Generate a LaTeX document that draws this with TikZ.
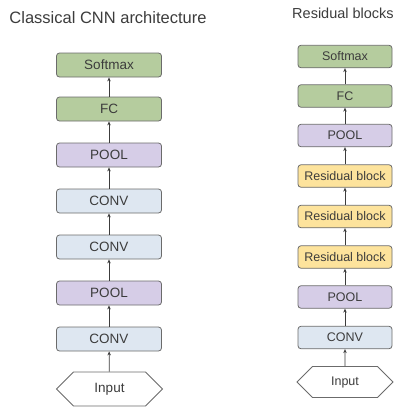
\documentclass[tikz,border=0pt]{standalone}
\usepackage{fontspec}
\setmainfont{Liberation Sans}
\usetikzlibrary{arrows.meta,shapes.symbols}

\definecolor{boxgray}{HTML}{6B6B6B}
\definecolor{txtgray}{HTML}{3C3C3C}
\definecolor{fcgreen}{HTML}{B5CC9E}
\definecolor{poolpurple}{HTML}{D6CDE7}
\definecolor{convblue}{HTML}{DEE7F1}
\definecolor{resyellow}{HTML}{FDE39C}

\begin{document}
\begin{tikzpicture}[x=1pt, y=-1pt, >={Stealth[length=4pt,width=3.5pt]}]
 \tikzset{
  layer/.style={draw=boxgray, line width=0.8pt, rounded corners=3pt, inner sep=0pt,
                text=txtgray, minimum width=105pt, minimum height=24pt,
                font=\fontsize{13.5}{15}\selectfont},
  slim/.style={minimum width=94pt, minimum height=22.5pt,
               font=\fontsize{12.5}{14}\selectfont},
  inp/.style={draw=boxgray, line width=0.8pt, fill=white, text=txtgray, inner sep=0pt,
              signal, signal to=west and east, signal pointer angle=90},
  link/.style={->, draw=txtgray, line width=0.8pt},
  title/.style={text=txtgray, inner sep=0pt}
 }
 \useasboundingbox (0,0) rectangle (400,408);

 % classical stack
 \node[title, font=\fontsize{16.5}{19}\selectfont] (tl) at (108,18) {Classical CNN architecture};
 \node[layer, fill=fcgreen] (l7) at (109,65) {Softmax};
 \node[layer, fill=fcgreen] (l6) at (109,109) {FC};
 \node[layer, fill=poolpurple] (l5) at (109,155) {POOL};
 \node[layer, fill=convblue] (l4) at (109,201) {CONV};
 \node[layer, fill=convblue] (l3) at (109,247) {CONV};
 \node[layer, fill=poolpurple] (l2) at (109,293) {POOL};
 \node[layer, fill=convblue] (l1) at (109,339) {CONV};
 \node[inp, minimum width=106pt, minimum height=34pt,
       font=\fontsize{13.5}{15}\selectfont] (l0) at (109.5,389) {Input};
 \foreach \a/\b in {l0/l1,l1/l2,l2/l3,l3/l4,l4/l5,l5/l6,l6/l7}
  \draw[link] (\a) -- (\b);

 % residual stack
 \node[title, font=\fontsize{14.5}{17}\selectfont] (tr) at (343,13) {Residual blocks};
 \node[layer, slim, fill=fcgreen] (r8) at (345,56.5) {Softmax};
 \node[layer, slim, fill=fcgreen] (r7) at (345,96) {FC};
 \node[layer, slim, fill=poolpurple] (r6) at (345,135.5) {POOL};
 \node[layer, slim, fill=resyellow] (r5) at (345,176) {Residual block};
 \node[layer, slim, fill=resyellow] (r4) at (345,216.5) {Residual block};
 \node[layer, slim, fill=resyellow] (r3) at (345,257) {Residual block};
 \node[layer, slim, fill=poolpurple] (r2) at (345,297) {POOL};
 \node[layer, slim, fill=convblue] (r1) at (345,337.5) {CONV};
 \node[inp, minimum width=96pt, minimum height=31pt,
       font=\fontsize{12.5}{14}\selectfont] (r0) at (345,382) {Input};
 \foreach \a/\b in {r0/r1,r1/r2,r2/r3,r3/r4,r4/r5,r5/r6,r6/r7,r7/r8}
  \draw[link] (\a) -- (\b);
\end{tikzpicture}
\end{document}
